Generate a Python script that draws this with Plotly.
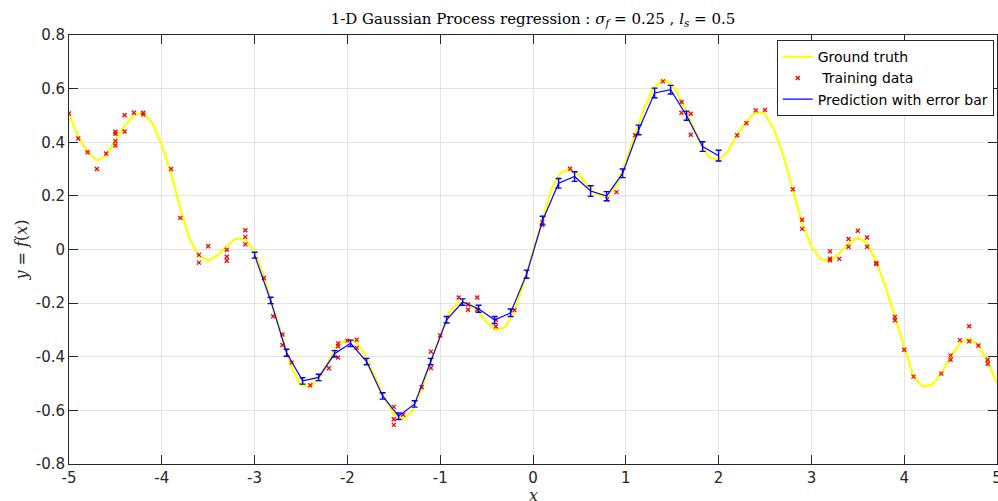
import numpy as np
import plotly.graph_objects as go

# Ground truth sampled on a 0.1 grid over [-5, 5]
x_truth = np.round(np.arange(-5.0, 5.0001, 0.1), 1)
y_truth = [
    0.507, 0.419, 0.363, 0.331, 0.351, 0.406, 0.461, 0.502, 0.508, 0.471,
    0.390, 0.284, 0.153, 0.039, -0.024, -0.042, -0.022, 0.012, 0.041, 0.037,
    -0.006, -0.102, -0.214, -0.333, -0.441, -0.507, -0.511, -0.479, -0.414, -0.352,
    -0.337, -0.346, -0.402, -0.477, -0.552, -0.614, -0.634, -0.602, -0.521, -0.414,
    -0.327, -0.233, -0.196, -0.200, -0.227, -0.271, -0.300, -0.290, -0.227, -0.127,
    -0.010, 0.109, 0.228, 0.287, 0.299, 0.278, 0.234, 0.203, 0.197, 0.240,
    0.328, 0.428, 0.528, 0.602, 0.634, 0.615, 0.553, 0.478, 0.397, 0.343,
    0.334, 0.365, 0.428, 0.478, 0.513, 0.505, 0.446, 0.347, 0.222, 0.097,
    0.012, -0.037, -0.042, -0.015, 0.022, 0.044, 0.025, -0.046, -0.140, -0.252,
    -0.370, -0.474, -0.511, -0.505, -0.461, -0.401, -0.349, -0.333, -0.358, -0.420,
    -0.499,
]

# Noisy training observations
x_train = [
    -5.0, -4.9, -4.8, -4.7, -4.6, -4.5, -4.5, -4.5, -4.5, -4.4, -4.4, -4.3, -4.2, -4.2,
    -3.9, -3.8, -3.6, -3.6, -3.5, -3.3, -3.3, -3.3, -3.1, -3.1, -3.1,
    -2.9, -2.8, -2.7, -2.7, -2.6, -2.4, -2.2, -2.1, -2.1, -2.1, -2.0, -1.9, -1.9,
    -1.5, -1.5, -1.5, -1.4, -1.2, -1.1, -1.1, -1.0, -0.8, -0.7, -0.7, -0.6, -0.6,
    -0.4, -0.4, -0.2, 0.1, 0.1, 0.4, 0.8, 0.9, 1.1, 1.4, 1.6, 1.6, 1.7, 1.7,
    2.2, 2.3, 2.4, 2.5, 2.8, 2.9, 2.9, 3.2, 3.2, 3.2, 3.3, 3.4, 3.4, 3.5, 3.6, 3.6,
    3.7, 3.7, 3.9, 3.9, 4.0, 4.1, 4.4, 4.5, 4.5, 4.6, 4.7, 4.7, 4.8, 4.9, 4.9,
]
y_train = [
    0.507, 0.414, 0.363, 0.300, 0.358, 0.439, 0.432, 0.404, 0.388, 0.440, 0.501, 0.510, 0.510, 0.503,
    0.300, 0.118, -0.020, -0.049, 0.012, -0.001, -0.027, -0.042, 0.072, 0.047, 0.019,
    -0.106, -0.249, -0.317, -0.356, -0.422, -0.506, -0.443, -0.350, -0.361, -0.403, -0.340, -0.336, -0.367,
    -0.587, -0.633, -0.654, -0.616, -0.514, -0.381, -0.442, -0.321, -0.179, -0.205, -0.225, -0.179, -0.224,
    -0.262, -0.287, -0.226, 0.102, 0.091, 0.301, 0.187, 0.214, 0.426, 0.627, 0.550, 0.510, 0.506, 0.428,
    0.426, 0.471, 0.519, 0.520, 0.225, 0.111, 0.077, -0.007, -0.034, -0.040, -0.035, 0.039, 0.010, 0.070, 0.045, 0.010,
    -0.050, -0.054, -0.252, -0.264, -0.374, -0.474, -0.463, -0.395, -0.411, -0.338, -0.286, -0.342, -0.358, -0.411, -0.426,
]

# GP posterior mean and standard deviation at 30 test inputs on [-3, 2]
x_pred = np.linspace(-3.0, 2.0, 30)
y_pred = [
    -0.021, -0.190, -0.385, -0.490, -0.477, -0.389, -0.350, -0.418, -0.546, -0.622,
    -0.576, -0.418, -0.262, -0.196, -0.221, -0.263, -0.236, -0.092, 0.108, 0.247,
    0.272, 0.218, 0.199, 0.284, 0.446, 0.584, 0.596, 0.499, 0.384, 0.350,
]
y_err = [
    0.011, 0.012, 0.013, 0.012, 0.012, 0.012, 0.012, 0.012, 0.012, 0.012,
    0.012, 0.012, 0.012, 0.012, 0.013, 0.013, 0.014, 0.015, 0.016, 0.018,
    0.018, 0.020, 0.017, 0.016, 0.018, 0.018, 0.016, 0.017, 0.018, 0.020,
]

x_ticks = list(range(-5, 6))
y_ticks = [-0.8, -0.6, -0.4, -0.2, 0, 0.2, 0.4, 0.6, 0.8]
y_tick_text = ["-0.8", "-0.6", "-0.4", "-0.2", "0", "0.2", "0.4", "0.6", "0.8"]

fig = go.Figure()

fig.add_trace(go.Scatter(
    x=x_truth, y=y_truth, mode="lines", name="Ground truth",
    line=dict(color="#ffff00", width=2.2),
))
fig.add_trace(go.Scatter(
    x=x_train, y=y_train, mode="markers", name="\u00a0Training data",
    marker=dict(symbol="x-thin", size=4, color="#ff0000",
                line=dict(color="#ff0000", width=1.3)),
))
fig.add_trace(go.Scatter(
    x=x_pred, y=y_pred, mode="lines", name="Prediction with error bar",
    line=dict(color="#0000ff", width=1.2),
    error_y=dict(type="data", array=y_err, visible=True,
                 color="#0000ff", thickness=1.4, width=3),
))

axis_common = dict(
    showline=True, linecolor="#262626", linewidth=1, mirror="ticks",
    ticks="inside", ticklen=9, tickwidth=1, tickcolor="#262626",
    showgrid=True, gridcolor="#e3e3e3", gridwidth=1, zeroline=False,
    tickfont=dict(family="DejaVu Sans", size=15, color="#262626"),
    automargin=False, ticklabeloverflow="allow",
)

fig.update_xaxes(
    range=[-5, 5], tickvals=x_ticks, ticktext=[str(v) for v in x_ticks],
    **axis_common,
)
fig.update_yaxes(
    range=[-0.8, 0.8], tickvals=y_ticks, ticktext=y_tick_text,
    title=dict(text="<i>y</i> = <i>f</i>(<i>x</i>)",
               font=dict(family="DejaVu Serif", size=16, color="#262626"),
               standoff=4),
    **axis_common,
)

# x-axis label placed just below the tick labels
fig.add_annotation(
    text="<i>x</i>", xref="paper", yref="paper", x=0.5, y=-0.074,
    xanchor="center", yanchor="middle", showarrow=False,
    font=dict(family="DejaVu Serif", size=16, color="#262626"),
)

fig.update_layout(
    width=998, height=501,
    margin=dict(l=69, r=1, t=35, b=37),
    paper_bgcolor="white", plot_bgcolor="white",
    title=dict(
        text="1-D Gaussian Process regression : <i>σ<sub>f</sub></i> = 0.25 , <i>l<sub>s</sub></i> = 0.5",
        font=dict(family="DejaVu Serif", size=15, color="#000000"),
        xref="paper", x=0.5, xanchor="center", y=0.962, yanchor="middle",
    ),
    legend=dict(
        x=0.9965, y=0.988, xanchor="right", yanchor="top",
        bgcolor="white", bordercolor="#262626", borderwidth=1,
        font=dict(family="DejaVu Sans", size=14, color="#000000"),
        itemwidth=30, tracegroupgap=0,
    ),
    showlegend=True,
)

fig.write_html("out.html")
